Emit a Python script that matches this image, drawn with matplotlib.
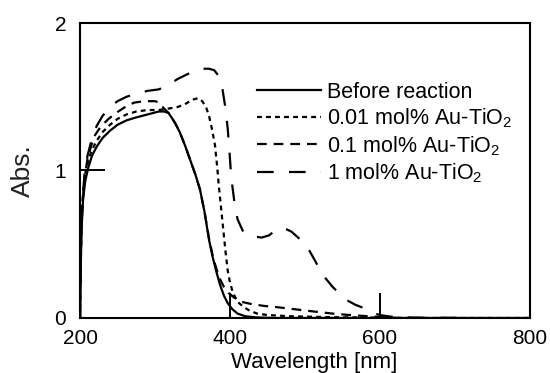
import matplotlib
matplotlib.use("Agg")
import matplotlib.pyplot as plt

plt.rcParams['font.family'] = ['Liberation Sans', 'DejaVu Sans']
plt.rcParams['mathtext.fontset'] = 'custom'
plt.rcParams['mathtext.rm'] = 'Liberation Sans'
plt.rcParams['mathtext.default'] = 'regular'
plt.rcParams['lines.scale_dashes'] = False

# Before reaction
wl_before = [200, 201, 202, 204, 207, 211, 216, 222, 230, 240, 250, 262, 275, 290, 305, 312,
             318, 322, 327, 333, 340, 347, 354, 360, 366, 372, 377, 382, 387, 392, 397, 403,
             410, 420, 435, 460, 500, 600, 800]
abs_before = [0, 0.35, 0.6, 0.8, 0.93, 1.02, 1.1, 1.16, 1.22, 1.27, 1.31, 1.34, 1.36, 1.38, 1.40, 1.40,
              1.39, 1.36, 1.32, 1.26, 1.17, 1.07, 0.97, 0.87, 0.72, 0.53, 0.41, 0.31, 0.22, 0.15, 0.10, 0.06,
              0.03, 0.012, 0.004, 0, 0, 0, 0]

# 0.01 mol% Au-TiO2
wl_001 = [200, 201, 202, 204, 207, 211, 216, 222, 230, 240, 250, 262, 275, 290, 305, 318, 330, 340,
          350, 357, 363, 368, 372, 376, 380, 383, 385, 388, 391, 394, 397, 400, 404, 410, 418, 426,
          436, 450, 480, 530, 600, 650, 800]
abs_001 = [0, 0.4, 0.65, 0.85, 0.98, 1.07, 1.14, 1.2, 1.26, 1.31, 1.35, 1.38, 1.40, 1.41, 1.41, 1.42, 1.43, 1.45,
           1.48, 1.49, 1.47, 1.43, 1.37, 1.28, 1.17, 1.02, 0.9, 0.75, 0.6, 0.45, 0.32, 0.24, 0.17, 0.11, 0.075, 0.05,
           0.03, 0.02, 0.012, 0.006, 0.002, 0, 0]

# 0.1 mol% Au-TiO2
wl_01 = [200, 201, 203, 206, 210, 215, 220, 228, 238, 248, 260, 272, 285, 300, 306, 312, 318, 322,
         327, 333, 340, 347, 354, 360, 366, 372, 377, 382, 387, 392, 398, 405, 415, 428, 445, 465,
         490, 515, 540, 565, 590, 610, 625]
abs_01 = [0, 0.45, 0.75, 0.95, 1.08, 1.17, 1.24, 1.3, 1.35, 1.39, 1.43, 1.46, 1.47, 1.47, 1.46, 1.42, 1.39, 1.36,
          1.32, 1.26, 1.17, 1.07, 0.97, 0.87, 0.72, 0.54, 0.42, 0.33, 0.26, 0.21, 0.17, 0.14, 0.11, 0.095, 0.082, 0.072,
          0.057, 0.042, 0.028, 0.018, 0.01, 0.004, 0]

# 1 mol% Au-TiO2
wl_1 = [200, 201, 203, 206, 210, 215, 222, 230, 240, 250, 262, 275, 290, 305, 318, 330, 342, 354,
        364, 372, 379, 385, 390, 394, 397, 399, 401, 403, 406, 410, 418, 430, 442, 452, 462, 472,
        482, 492, 500, 511, 524, 537, 547, 556, 567, 577, 590, 600, 610, 620, 640, 660, 690, 720]
abs_1 = [0, 0.45, 0.78, 0.98, 1.1, 1.2, 1.3, 1.37, 1.43, 1.47, 1.5, 1.52, 1.54, 1.55, 1.58, 1.62, 1.65, 1.68,
         1.69, 1.69, 1.68, 1.64, 1.55, 1.42, 1.28, 1.15, 1.0, 0.9, 0.78, 0.67, 0.58, 0.555, 0.545, 0.56, 0.6, 0.61,
         0.585, 0.54, 0.51, 0.41, 0.29, 0.21, 0.16, 0.12, 0.09, 0.07, 0.035, 0.02, 0.012, 0.006, 0.003, 0.002, 0.001, 0]

labels = ['Before reaction', '0.01 mol% Au-TiO$_2$', '0.1 mol% Au-TiO$_2$', '1 mol% Au-TiO$_2$']
xticks = [200, 400, 600, 800]
yticks = [0, 1, 2]

fig = plt.figure(figsize=(5.5, 3.73), dpi=100)
ax = fig.add_axes([0.1455, 0.1475, 0.8181, 0.7908])

lw = 1.6
ax.plot(wl_before, abs_before, color='black', lw=lw, linestyle='-', label=labels[0])
ax.plot(wl_001, abs_001, color='black', lw=lw, dashes=(3.5, 3.0), label=labels[1])
ax.plot(wl_01, abs_01, color='black', lw=lw, dashes=(7, 5), label=labels[2])
ax.plot(wl_1, abs_1, color='black', lw=lw, dashes=(12, 11), label=labels[3])

ax.set_xlim(200, 800)
ax.set_ylim(0, 2)
ax.set_xticks(xticks)
ax.set_yticks(yticks)
ax.tick_params(direction='in', length=18, width=1.4, labelsize=15, color='black')
ax.tick_params(axis='y', pad=10)
ax.tick_params(axis='x', pad=8)
for sp in ax.spines.values():
    sp.set_linewidth(1.5)

ax.set_xlabel('Wavelength [nm]', fontsize=16, labelpad=0)
ax.xaxis.set_label_coords(0.52, -0.117)
ax.set_ylabel('Abs.', fontsize=19, color='#222222')
ax.yaxis.set_label_coords(-0.10, 0.5)

ax.legend(loc='upper left', bbox_to_anchor=(0.393, 0.80), frameon=False, fontsize=15.5,
          handlelength=3.0, handletextpad=0.25, labelspacing=0.17, borderpad=0, borderaxespad=0)

fig.savefig('out.png', dpi=100)
